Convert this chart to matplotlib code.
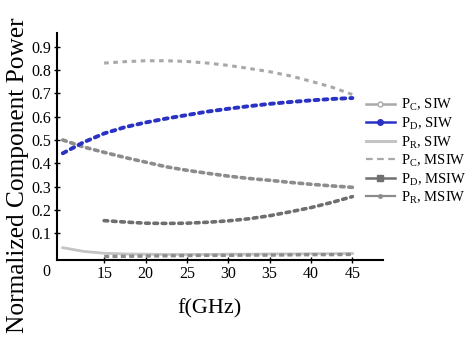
import numpy as np
import matplotlib
matplotlib.use('Agg')
import matplotlib.pyplot as plt
from matplotlib.lines import Line2D

plt.rcParams['font.family'] = ['Liberation Serif', 'DejaVu Serif']
plt.rcParams['mathtext.fontset'] = 'custom'
plt.rcParams['mathtext.rm'] = 'Liberation Serif'

# frequencies (GHz)
f_siw = [10, 12.5, 15, 17.5, 20, 22.5, 25, 27.5, 30, 32.5, 35, 37.5, 40, 42.5, 45]
f_msiw = [15, 17.5, 20, 22.5, 25, 27.5, 30, 32.5, 35, 37.5, 40, 42.5, 45]

# SIW
pc_siw = [0.50, 0.47, 0.447, 0.425, 0.405, 0.385, 0.37, 0.357, 0.345, 0.335, 0.327, 0.318, 0.31, 0.303, 0.297]
pd_siw = [0.443, 0.49, 0.528, 0.555, 0.575, 0.592, 0.607, 0.622, 0.634, 0.645, 0.655, 0.663, 0.670, 0.676, 0.680]
pr_siw = [0.038, 0.022, 0.014, 0.011, 0.010, 0.009, 0.009, 0.009, 0.010, 0.010, 0.011, 0.011, 0.012, 0.012, 0.013]

# MSIW
pc_msiw = [0.83, 0.836, 0.84, 0.84, 0.837, 0.83, 0.82, 0.807, 0.793, 0.775, 0.752, 0.727, 0.695]
pd_msiw = [0.154, 0.148, 0.143, 0.142, 0.143, 0.147, 0.153, 0.162, 0.175, 0.192, 0.21, 0.232, 0.257]
pr_msiw = [0.0, 0.001, 0.002, 0.003, 0.004, 0.005, 0.005, 0.006, 0.006, 0.007, 0.008, 0.008, 0.009]

labels = [r'P$_\mathregular{C}$, SIW', r'P$_\mathregular{D}$, SIW', r'P$_\mathregular{R}$, SIW',
          r'P$_\mathregular{C}$, MSIW', r'P$_\mathregular{D}$, MSIW', r'P$_\mathregular{R}$, MSIW']

blue = '#2a32c4'

fig = plt.figure(figsize=(4.66, 3.39), dpi=100)
ax = fig.add_axes([0.1223, 0.233, 0.6996, 0.6696])

dots = (0, (1, 1.3))
ax.plot(f_siw, pc_siw, color='#8c8c8c', lw=2.6, ls=dots, dash_capstyle='round')
ax.plot(f_siw, pd_siw, color=blue, lw=2.8, ls=dots, dash_capstyle='round')
ax.plot(f_siw, pr_siw, color='#c4c4c4', lw=2.0)
ax.plot(f_msiw, pc_msiw, color='#a8a8a8', lw=2.2, ls=(0, (1.5, 1.5)))
ax.plot(f_msiw, pd_msiw, color='#6e6e6e', lw=2.6, ls=dots, dash_capstyle='round')
ax.plot(f_msiw, pr_msiw, color='#8c8c8c', lw=2.4, ls=(0, (1.5, 1.0)))

ax.set_xlim(9.3, 48.7)
ax.set_ylim(-0.015, 0.959)
ax.set_xticks([15, 20, 25, 30, 35, 40, 45])
ax.set_yticks([0.1, 0.2, 0.3, 0.4, 0.5, 0.6, 0.7, 0.8, 0.9])
ax.set_yticklabels(['0.1', '0.2', '0.3', '0.4', '0.5', '0.6', '0.7', '0.8', '0.9'])
ax.tick_params(axis='both', labelsize=11.5, direction='inout', length=4, width=1, pad=2)
ax.spines['top'].set_visible(False)
ax.spines['right'].set_visible(False)
for s in ['left', 'bottom']:
    ax.spines[s].set_linewidth(1.5)
ax.text(-0.02, -0.018, '0', transform=ax.transAxes, ha='right', va='top', fontsize=11.5)

ax.set_xlabel('f(GHz)', fontsize=16)
ax.xaxis.set_label_coords(0.466, -0.17)
fig.text(0.038, 0.482, 'Normalized Component Power', rotation=90, ha='center', va='center', fontsize=18.3)

handles = [
    Line2D([], [], color='#a8a8a8', lw=1.8, marker='o', ms=3.5, mfc='white', mec='#a8a8a8'),
    Line2D([], [], color=blue, lw=1.8, marker='o', ms=4),
    Line2D([], [], color='#c4c4c4', lw=2.2),
    Line2D([], [], color='#a8a8a8', lw=1.6, ls=(0, (3, 2))),
    Line2D([], [], color='#707070', lw=1.8, marker='s', ms=4),
    Line2D([], [], color='#8c8c8c', lw=1.6, marker='o', ms=2.5),
]
fig.legend(handles, labels, loc='upper left', bbox_to_anchor=(0.785, 0.715), frameon=False,
           fontsize=10.5, labelspacing=0.13, handlelength=2.0, handletextpad=0.4,
           borderaxespad=0, borderpad=0)

fig.savefig('out.png', dpi=100)
